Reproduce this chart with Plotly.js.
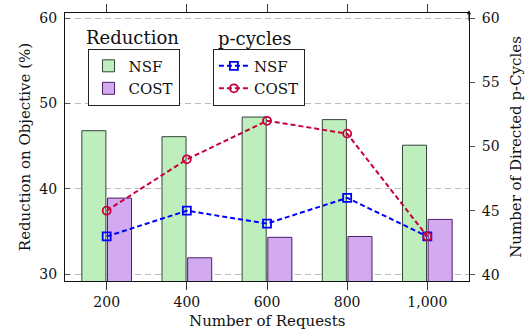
<!DOCTYPE html>
<html>
<head>
<meta charset="utf-8">
<script src="https://cdn.plot.ly/plotly-3.0.1.min.js"></script>
<style>html,body{margin:0;padding:0;background:#fff;}#chart{width:527px;height:329px;}</style>
</head>
<body>
<div id="chart"></div>
<script>
const requests = ['200', '400', '600', '800', '1,000'];
const reductionNSF = [46.8, 46.1, 48.4, 48.1, 45.1];
const reductionCOST = [38.9, 31.9, 34.3, 34.4, 36.4];
const pcyclesNSF = [43, 45, 44, 46, 43];
const pcyclesCOST = [45, 49, 52, 51, 43];
const leftTicks = [30, 40, 50, 60];
const rightTicks = [40, 45, 50, 55, 60];

const FONT = 'DejaVu Serif, serif';

const traces = [
  {type: 'bar', name: 'NSF', x: requests, y: reductionNSF, width: 0.3, offset: -0.31,
   marker: {color: '#bdeebb', line: {color: '#34443a', width: 1}}, legend: 'legend', yaxis: 'y'},
  {type: 'bar', name: 'COST', x: requests, y: reductionCOST, width: 0.3, offset: 0.01,
   marker: {color: '#d3aaf0', line: {color: '#4a1f66', width: 1}}, legend: 'legend', yaxis: 'y'},
  {type: 'scatter', mode: 'lines+markers', name: 'NSF', x: requests, y: pcyclesNSF, yaxis: 'y2', legend: 'legend2',
   line: {color: '#0000ff', width: 2, dash: '5px,3px'},
   marker: {symbol: 'square-open', size: 8, color: '#0000ff', line: {width: 1.8}}},
  {type: 'scatter', mode: 'lines+markers', name: 'COST', x: requests, y: pcyclesCOST, yaxis: 'y2', legend: 'legend2',
   line: {color: '#c8003c', width: 2, dash: '5px,3px'},
   marker: {symbol: 'circle-open', size: 8, color: '#c8003c', line: {width: 1.8}}}
];

const layout = {
  width: 527, height: 329,
  margin: {l: 65, r: 58, t: 13, b: 48, pad: 0},
  paper_bgcolor: '#fff', plot_bgcolor: '#fff',
  font: {family: FONT, size: 14, color: '#111'},
  showlegend: true,
  barmode: 'overlay',
  xaxis: {
    type: 'category', categoryorder: 'array', categoryarray: requests,
    range: [-0.52, 4.52],
    showline: true, linecolor: '#111', linewidth: 1, mirror: 'allticks',
    ticks: 'outside', ticklen: 8, tickcolor: '#333', tickwidth: 1,
    showgrid: false, zeroline: false,
    ticklabelstandoff: 0,
    tickfont: {family: FONT, size: 14}
  },
  yaxis: {
    range: [29.18, 60.6], tickvals: leftTicks, ticktext: leftTicks.map(String),
    showline: true, linecolor: '#111', linewidth: 1,
    ticks: 'inside', ticklen: 5, tickcolor: '#555',
    showgrid: true, gridcolor: '#bbb', griddash: '6px,4px', gridwidth: 1,
    zeroline: false,
    ticklabelstandoff: 4,
    tickfont: {family: FONT, size: 14},
    title: {text: 'Reduction on Objective (%)', font: {family: FONT, size: 15}, standoff: 5}
  },
  yaxis2: {
    overlaying: 'y', side: 'right', anchor: 'x',
    range: [39.53, 60.39], tickvals: rightTicks, ticktext: rightTicks.map(String),
    showline: true, linecolor: '#111', linewidth: 1,
    ticks: 'outside', ticklen: 5, tickcolor: '#555',
    showgrid: false, zeroline: false,
    ticklabelstandoff: 4,
    tickfont: {family: FONT, size: 14},
    title: {text: 'Number of Directed p-Cycles', font: {family: FONT, size: 15}, standoff: 11}
  },
  legend: {
    x: 0.1696, y: 0.761, xanchor: 'center', yanchor: 'middle',
    bgcolor: '#fff', bordercolor: '#222', borderwidth: 1,
    font: {family: FONT, size: 15}, itemwidth: 30, tracegroupgap: 0
  },
  legend2: {
    x: 0.48, y: 0.761, xanchor: 'center', yanchor: 'middle',
    bgcolor: '#fff', bordercolor: '#222', borderwidth: 1,
    font: {family: FONT, size: 15}, itemwidth: 30, tracegroupgap: 0
  },
  annotations: [
    {text: 'Reduction', xref: 'paper', yref: 'paper', x: 0.166, y: 0.91, showarrow: false,
     font: {family: FONT, size: 18, color: '#111'}, xanchor: 'center', yanchor: 'middle'},
    {text: 'p-cycles', xref: 'paper', yref: 'paper', x: 0.47, y: 0.905, showarrow: false,
     font: {family: FONT, size: 18, color: '#111'}, xanchor: 'center', yanchor: 'middle'},
    {text: 'Number of Requests', xref: 'paper', yref: 'paper', x: 0.5, y: -0.148, showarrow: false,
     font: {family: FONT, size: 15, color: '#111'}, xanchor: 'center', yanchor: 'middle'},
    {text: '', xref: 'paper', yref: 'paper', x: 1, y: 1.01, showarrow: true, ax: 0, ay: 12,
     arrowhead: 2, arrowsize: 0.8, arrowwidth: 1, arrowcolor: '#111'}
  ]
};

Plotly.newPlot('chart', traces, layout, {displayModeBar: false, staticPlot: true});
</script>
</body>
</html>
